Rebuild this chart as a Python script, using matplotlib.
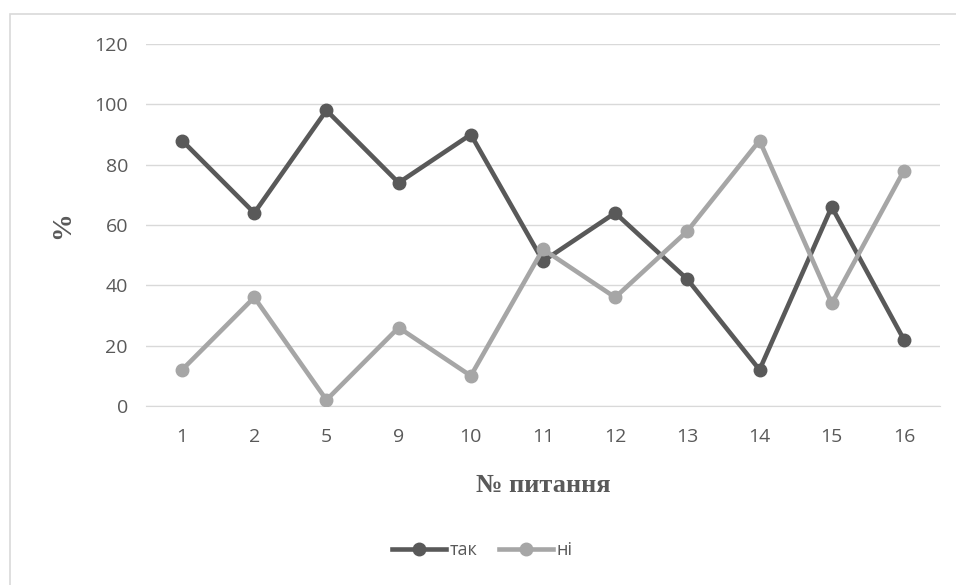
import matplotlib.pyplot as plt
from matplotlib.patches import Rectangle

# номери питань та відповіді (%)
pytannya = ["1", "2", "5", "9", "10", "11", "12", "13", "14", "15", "16"]
tak = [88, 64, 98, 74, 90, 48, 64, 42, 12, 66, 22]
ni = [12, 36, 2, 26, 10, 52, 36, 58, 88, 34, 78]
yticks = [0, 20, 40, 60, 80, 100, 120]

W, H = 956, 585
fig = plt.figure(figsize=(W / 100, H / 100), dpi=100)
ax = fig.add_axes([146 / W, 1 - 406 / H, (940 - 146) / W, (406 - 44) / H])

# рамка діаграми
fig.patches.append(Rectangle((10 / W, -0.1), 1.2, 1.1 - 14 / H,
                             transform=fig.transFigure, fill=False,
                             edgecolor="#d9d9d9", linewidth=1.2))

x = list(range(len(pytannya)))
ax.plot(x, tak, color="#595959", linewidth=3.3, marker="o", markersize=9,
        label="так", zorder=3)
ax.plot(x, ni, color="#a6a6a6", linewidth=3.3, marker="o", markersize=9,
        label="ні", zorder=3)

ax.set_xlim(-0.5, len(pytannya) - 0.5)
ax.set_ylim(0, 120)
ax.set_yticks(yticks)
ax.set_xticks(x)
ax.set_xticklabels(pytannya)
ax.grid(axis="y", color="#d9d9d9", linewidth=1)
ax.set_axisbelow(True)
for s in ["top", "right", "left"]:
    ax.spines[s].set_visible(False)
ax.spines["bottom"].set_color("#d9d9d9")
ax.tick_params(length=0, labelsize=14, labelcolor="#595959",
               labelfontfamily="Open Sans")
ax.tick_params(axis="x", pad=16)
ax.tick_params(axis="y", pad=13)

ax.set_xlabel("№ питання", fontsize=19, fontweight="bold",
              family="Liberation Serif", color="#595959", labelpad=20)
ax.set_ylabel("%", fontsize=20, fontweight="bold",
              family="Liberation Serif", color="#595959", labelpad=14)

leg = fig.legend(loc="center", bbox_to_anchor=(482 / W, 1 - 550 / H), ncol=2,
                 frameon=False, handlelength=3, handletextpad=0.2,
                 columnspacing=1.2, prop={"family": "Open Sans", "size": 13})
for t in leg.get_texts():
    t.set_color("#595959")

fig.savefig("out.png", dpi=100)
